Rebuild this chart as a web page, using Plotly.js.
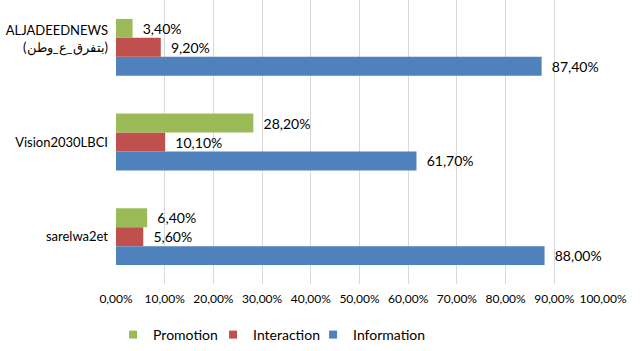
<!DOCTYPE html>
<html>
<head>
<meta charset="utf-8">
<script src="https://cdn.plot.ly/plotly-3.0.1.min.js"></script>
<style>html,body{margin:0;padding:0;background:#fff;}#chart{width:641px;height:351px;}</style>
</head>
<body>
<div id="chart"></div>
<script>
// Categories from bottom to top
const categories = ["sarelwa2et", "Vision2030LBCI", "ALJADEEDNEWS"];
const categoryLabels = ["sarelwa2et", "Vision2030LBCI", "ALJADEEDNEWS<br>(بتفرق_ع_وطن)<br> "];
const seriesNames = ["Information", "Interaction", "Promotion"];
const information = [88.0, 61.7, 87.4];
const interaction = [5.6, 10.1, 9.2];
const promotion = [6.4, 28.2, 3.4];
const xTicks = [0, 10, 20, 30, 40, 50, 60, 70, 80, 90, 100];
const colors = ["#4F81BD", "#C0504D", "#9BBB59"];

const fmt = v => "  " + v.toFixed(2).replace(".", ",") + "%";
const font = "Lato, 'Open Sans', sans-serif";

function barTrace(name, vals, color) {
  return {
    type: "bar", orientation: "h", name: name, legendgroup: name,
    y: categories, x: vals,
    text: vals.map(fmt), textposition: "outside",
    textfont: {family: font, size: 14, color: "#000"},
    constraintext: "none", cliponaxis: false,
    marker: {color: color},
    showlegend: false, hoverinfo: "none"
  };
}
function legendTrace(name, color, opacity) {
  return {
    type: "scatter", mode: "markers", name: name, legendgroup: name,
    x: [null], y: [null],
    marker: {symbol: "square", size: 8, color: color, opacity: opacity},
    showlegend: true, hoverinfo: "none"
  };
}

const series = [information, interaction, promotion];
// spacer entry (invisible) keeps the last legend label from being clipped
const data = [legendTrace(" ", "#ffffff", 0)]
  .concat(series.map((s, i) => barTrace(seriesNames[i], s, colors[i])))
  .concat(series.map((s, i) => legendTrace(seriesNames[i], colors[i], 1)));

const layout = {
  width: 641, height: 351,
  margin: {l: 116, r: 38, t: 0, b: 67},
  paper_bgcolor: "#fff", plot_bgcolor: "#fff",
  barmode: "group", bargap: 0.4, bargroupgap: 0,
  separators: ", ",
  font: {family: font, color: "#000"},
  xaxis: {
    range: [0, 100], tickvals: xTicks,
    ticktext: xTicks.map(v => v.toFixed(2).replace(".", ",") + "%"),
    showgrid: true, gridcolor: "#D9D9D9", gridwidth: 1,
    zeroline: false, showline: false, ticks: "",
    tickfont: {family: font, size: 12, color: "#000"},
    ticklabelstandoff: 6, fixedrange: true
  },
  yaxis: {
    type: "category", categoryorder: "array", categoryarray: categories,
    tickvals: categories, ticktext: categoryLabels,
    showgrid: false, zeroline: false, showline: false, ticks: "",
    tickfont: {family: font, size: 13, color: "#000"},
    ticklabelstandoff: 7, fixedrange: true
  },
  showlegend: true,
  legend: {
    orientation: "h", traceorder: "reversed",
    x: -0.006, xanchor: "left", y: -0.125, yanchor: "top",
    font: {family: font, size: 14, color: "#000"},
    itemwidth: 30, entrywidth: 55
  }
};

Plotly.newPlot("chart", data, layout, {staticPlot: true, displayModeBar: false});
</script>
</body>
</html>
